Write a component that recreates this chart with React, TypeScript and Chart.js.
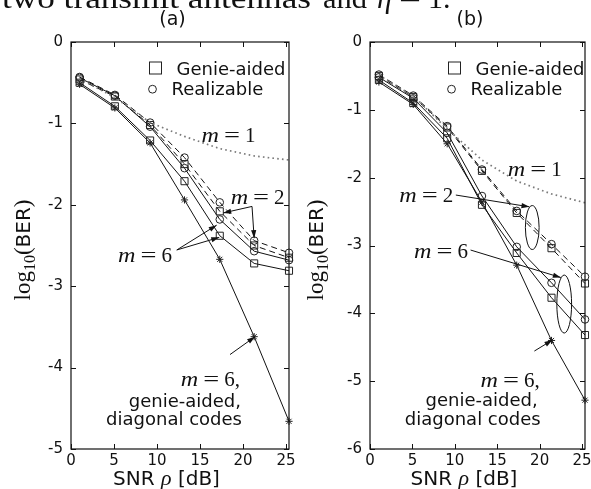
import React, { useEffect, useRef } from 'react';
import { Chart, registerables } from 'chart.js';

Chart.register(...registerables);

// ---------- data ----------
const SNR_A = [1, 5.1, 9.2, 13.2, 17.3, 21.3, 25.35];
const SNR_B = [1.05, 5.1, 9.1, 13.2, 17.3, 21.4, 25.35];
const X_TICKS = [0, 5, 10, 15, 20, 25];
const X_MAX = 25.35;
const Y_TICKS_A = [0, -1, -2, -3, -4, -5];
const Y_TICKS_B = [0, -1, -2, -3, -4, -5, -6];

// panel (a): log10(BER)
const A_M1 = [-0.45, -0.68, -0.99, -1.16, -1.31, -1.4, -1.45];
const A_M2_REAL = [-0.43, -0.65, -0.99, -1.42, -1.97, -2.44, -2.59];
const A_M2_GENIE = [-0.46, -0.67, -1.02, -1.5, -2.08, -2.5, -2.65];
const A_M6_REAL = [-0.44, -0.66, -1.04, -1.55, -2.18, -2.57, -2.68];
const A_M6_GENIE = [-0.5, -0.79, -1.21, -1.71, -2.38, -2.72, -2.81];
const A_M6_DIAG = [-0.52, -0.81, -1.24, -1.94, -2.67, -3.62, -4.66];

// panel (b): log10(BER)
const B_M1 = [-0.49, -0.8, -1.28, -1.74, -2.05, -2.24, -2.37];
const B_M2_REAL = [-0.48, -0.79, -1.24, -1.88, -2.49, -2.98, -3.46];
const B_M2_GENIE = [-0.5, -0.81, -1.26, -1.9, -2.52, -3.04, -3.56];
const B_M6_REAL = [-0.52, -0.83, -1.34, -2.27, -3.02, -3.55, -4.09];
const B_M6_GENIE = [-0.56, -0.9, -1.42, -2.4, -3.11, -3.77, -4.32];
const B_M6_DIAG = [-0.59, -0.92, -1.5, -2.36, -3.29, -4.4, -5.28];

// annotations (data units: [SNR, log10 BER])
const A_MATH = [
  { text: 'm = 1', at: [18.31, -1.225], align: 'center' },
  { text: 'm = 2', at: [21.7, -1.99], align: 'center' },
  { text: 'm = 6', at: [8.6, -2.7], align: 'center' },
  { text: 'm = 6,', at: [19.65, -4.226], align: 'right' },
];
const A_TEXT = [
  { text: 'genie-aided,', at: [19.77, -4.48], align: 'right' },
  { text: 'diagonal codes', at: [19.88, -4.705], align: 'right' },
];
const A_ARROWS = [
  { from: [21.05, -2.02], to: [17.7, -2.1] },
  { from: [21.05, -2.02], to: [21.3, -2.41] },
  { from: [12.3, -2.555], to: [16.94, -2.25] },
  { from: [12.3, -2.555], to: [17.24, -2.4] },
  { from: [18.49, -3.84], to: [21.4, -3.62] },
];
const A_ELLIPSES: { c: number[]; rx: number; ry: number }[] = [];

const B_MATH = [
  { text: 'm = 1', at: [19.42, -1.976], align: 'center' },
  { text: 'm = 2', at: [6.63, -2.354], align: 'center' },
  { text: 'm = 6', at: [8.37, -3.19], align: 'center' },
  { text: 'm = 6,', at: [20.0, -5.082], align: 'right' },
];
const B_TEXT = [
  { text: 'genie-aided,', at: [19.77, -5.362], align: 'right' },
  { text: 'diagonal codes', at: [20.12, -5.646], align: 'right' },
];
const B_ARROWS = [
  { from: [10.12, -2.256], to: [18.8, -2.43] },
  { from: [11.86, -3.067], to: [22.5, -3.472] },
  { from: [19.38, -4.556], to: [21.51, -4.393] },
];
const B_ELLIPSES = [
  { c: [19.13, -2.735], rx: 0.81, ry: 0.324 },
  { c: [22.9, -3.863], rx: 0.87, ry: 0.4275 },
];

// ---------- style ----------
const SANS = '"DejaVu Sans", sans-serif';
const SERIF = '"Liberation Serif", serif';
const INK = '#111';
const H = 489;

type Panel = {
  title: string;
  canvasLeft: number;
  width: number;
  areaLeft: number;
  areaRight: number;
  top: number;
  bottom: number;
  yMin: number;
  yTicks: number[];
  xs: number[];
  m1: number[];
  m2r: number[];
  m2g: number[];
  m6r: number[];
  m6g: number[];
  m6d: number[];
  math: any[];
  text: any[];
  arrows: any[];
  ellipses: any[];
  yTitleBase: number;
};

function ds(xs: number[], ys: number[], kind: string, marker: string) {
  return {
    data: xs.map((x, i) => ({ x, y: ys[i] })),
    borderColor: kind === 'dot' ? '#7a7a7a' : INK,
    borderWidth: kind === 'dot' ? 1.7 : 1,
    borderDash: kind === 'dot' ? [1.6, 3.2] : kind === 'dash' ? [6, 4] : [],
    pointStyle: marker === 'none' ? false : marker,
    pointRadius: marker === 'none' ? 0 : marker === 'rect' ? 5 : marker === 'circle' ? 3.8 : 3.6,
    pointHoverRadius: 0,
    pointBorderColor: '#222',
    pointBackgroundColor: 'rgba(0,0,0,0)',
    pointBorderWidth: 1,
    tension: 0,
    fill: false,
    clip: false,
  };
}

function drawMath(ctx: CanvasRenderingContext2D, text: string, x: number, y: number, align: string) {
  const rest = text.slice(1).trim().slice(1).trim();
  const size = 21;
  const fi = `italic ${size}px ${SERIF}`;
  const fr = `${size}px ${SERIF}`;
  ctx.font = fi;
  const wm = ctx.measureText('m').width * 1.15;
  ctx.font = fr;
  const eqScale = 1.35;
  const we = ctx.measureText('=').width * eqScale;
  const wr = ctx.measureText(rest).width;
  const gap = 5;
  const total = wm + gap + we + gap + wr;
  let x0 = align === 'center' ? x - total / 2 : align === 'right' ? x - total : x;
  ctx.textAlign = 'left';
  ctx.textBaseline = 'alphabetic';
  ctx.save();
  ctx.translate(x0, y);
  ctx.scale(1.15, 1);
  ctx.font = fi;
  ctx.fillText('m', 0, 0);
  ctx.restore();
  ctx.save();
  ctx.translate(x0 + wm + gap, y);
  ctx.scale(eqScale, 1);
  ctx.font = fr;
  ctx.fillText('=', 0, 0);
  ctx.restore();
  ctx.font = fr;
  ctx.fillText(rest, x0 + wm + gap + we + gap, y);
}

function arrow(ctx: CanvasRenderingContext2D, x1: number, y1: number, x2: number, y2: number) {
  ctx.beginPath();
  ctx.moveTo(x1, y1);
  ctx.lineTo(x2, y2);
  ctx.stroke();
  const a = Math.atan2(y2 - y1, x2 - x1);
  const L = 8;
  const w = 2.6;
  ctx.beginPath();
  ctx.moveTo(x2, y2);
  ctx.lineTo(x2 - L * Math.cos(a) + w * Math.sin(a), y2 - L * Math.sin(a) - w * Math.cos(a));
  ctx.lineTo(x2 - L * Math.cos(a) - w * Math.sin(a), y2 - L * Math.sin(a) + w * Math.cos(a));
  ctx.closePath();
  ctx.fill();
}

function drawPieces(ctx: CanvasRenderingContext2D, pieces: { t: string; f: string; dy: number }[], x: number, y: number, align: string) {
  let total = 0;
  const ws = pieces.map((p) => {
    ctx.font = p.f;
    const w = ctx.measureText(p.t).width;
    total += w;
    return w;
  });
  let cx = align === 'center' ? x - total / 2 : align === 'right' ? x - total : x;
  ctx.textAlign = 'left';
  ctx.textBaseline = 'alphabetic';
  pieces.forEach((p, i) => {
    ctx.font = p.f;
    ctx.fillText(p.t, cx, y + p.dy);
    cx += ws[i];
  });
}

function makePlugin(p: Panel) {
  return {
    id: 'decor',
    afterDraw(chart: any) {
      const ctx: CanvasRenderingContext2D = chart.ctx;
      const sx = chart.scales.x;
      const sy = chart.scales.y;
      const X = (v: number) => sx.getPixelForValue(v);
      const Y = (v: number) => sy.getPixelForValue(v);
      const ca = chart.chartArea;
      ctx.save();
      ctx.fillStyle = INK;
      ctx.strokeStyle = INK;
      ctx.setLineDash([]);

      // frame + inward ticks
      ctx.lineWidth = 1.2;
      ctx.strokeRect(ca.left, ca.top, ca.right - ca.left, ca.bottom - ca.top);
      ctx.lineWidth = 1;
      const tl = 5;
      ctx.beginPath();
      X_TICKS.forEach((v) => {
        const x = Math.round(X(v)) + 0.5;
        ctx.moveTo(x, ca.bottom);
        ctx.lineTo(x, ca.bottom - tl);
        ctx.moveTo(x, ca.top);
        ctx.lineTo(x, ca.top + tl);
      });
      p.yTicks.forEach((v) => {
        const y = Math.round(Y(v)) + 0.5;
        ctx.moveTo(ca.left, y);
        ctx.lineTo(ca.left + tl, y);
        ctx.moveTo(ca.right, y);
        ctx.lineTo(ca.right - tl, y);
      });
      ctx.stroke();

      // ellipses
      p.ellipses.forEach((e) => {
        const cx = X(e.c[0]);
        const cy = Y(e.c[1]);
        const rx = Math.abs(X(e.c[0] + e.rx) - cx);
        const ry = Math.abs(Y(e.c[1] + e.ry) - cy);
        ctx.beginPath();
        ctx.ellipse(cx, cy, rx, ry, 0, 0, Math.PI * 2);
        ctx.stroke();
      });

      // arrows
      p.arrows.forEach((a) => arrow(ctx, X(a.from[0]), Y(a.from[1]), X(a.to[0]), Y(a.to[1])));

      // math labels
      p.math.forEach((m) => drawMath(ctx, m.text, X(m.at[0]), Y(m.at[1]), m.align));
      // plain labels
      p.text.forEach((t) => {
        ctx.font = `18px ${SANS}`;
        ctx.textAlign = t.align;
        ctx.textBaseline = 'alphabetic';
        ctx.fillText(t.text, X(t.at[0]), Y(t.at[1]));
      });

      // legend
      ctx.lineWidth = 1;
      ctx.strokeStyle = '#222';
      ctx.strokeRect(ca.left + 78.5, ca.top + 20, 12, 12);
      ctx.beginPath();
      ctx.arc(ca.left + 81.5, ca.top + 47.2, 3.9, 0, Math.PI * 2);
      ctx.stroke();
      ctx.font = `18px ${SANS}`;
      ctx.textAlign = 'left';
      ctx.textBaseline = 'alphabetic';
      ctx.fillText('Genie-aided', ca.left + 105.5, ca.top + 32.5);
      ctx.fillText('Realizable', ca.left + 100.5, ca.top + 53);

      // panel title
      const mid = (ca.left + ca.right) / 2;
      ctx.font = `19px ${SANS}`;
      ctx.textAlign = 'center';
      ctx.fillText(p.title, mid - 7.5, 25);

      // x title
      drawPieces(
        ctx,
        [
          { t: 'SNR ', f: `20px ${SANS}`, dy: 0 },
          { t: 'ρ', f: `italic 22px ${SERIF}`, dy: 0 },
          { t: ' [dB]', f: `20px ${SANS}`, dy: 0 },
        ],
        mid - 13.5,
        485,
        'center'
      );

      // y title
      ctx.save();
      ctx.translate(p.yTitleBase, 250);
      ctx.rotate(-Math.PI / 2);
      drawPieces(
        ctx,
        [
          { t: 'log', f: `23px ${SERIF}`, dy: 0 },
          { t: '10', f: `16px ${SERIF}`, dy: 5 },
          { t: '(', f: `23px ${SERIF}`, dy: 0 },
          { t: 'BER', f: `20px ${SANS}`, dy: 0 },
          { t: ')', f: `23px ${SERIF}`, dy: 0 },
        ],
        0,
        0,
        'center'
      );
      ctx.restore();

      // cropped caption above the figure (page coordinates)
      ctx.save();
      ctx.translate(-p.canvasLeft, 0);
      ctx.textBaseline = 'alphabetic';
      ctx.textAlign = 'left';
      ctx.font = `30px ${SERIF}`;
      const c1 = 'two transmit antennas';
      const w1 = ctx.measureText(c1).width;
      ctx.save();
      ctx.translate(2, 7.5);
      ctx.scale(309 / w1, 1);
      ctx.fillText(c1, 0, 0);
      ctx.restore();
      ctx.save();
      ctx.translate(323, 7.5);
      const w2 = ctx.measureText('and').width;
      ctx.scale(44 / w2, 1);
      ctx.fillText('and', 0, 0);
      ctx.restore();
      ctx.font = `italic 30px ${SERIF}`;
      ctx.fillText('η', 377, 7.5);
      ctx.font = `30px ${SERIF}`;
      ctx.save();
      ctx.translate(399, 7.5);
      ctx.scale(1.3, 1);
      ctx.fillText('=', 0, 0);
      ctx.restore();
      ctx.fillText('1.', 428, 7.5);
      ctx.restore();

      ctx.restore();
    },
  };
}

function buildConfig(p: Panel): any {
  return {
    type: 'line',
    data: {
      datasets: [
        ds(p.xs, p.m1, 'dot', 'none'),
        ds(p.xs, p.m2r, 'dash', 'circle'),
        ds(p.xs, p.m2g, 'dash', 'rect'),
        ds(p.xs, p.m6r, 'solid', 'circle'),
        ds(p.xs, p.m6g, 'solid', 'rect'),
        ds(p.xs, p.m6d, 'solid', 'star'),
      ],
    },
    options: {
      responsive: false,
      animation: false,
      devicePixelRatio: 1,
      events: [],
      layout: { padding: { left: 0, right: p.width - p.areaRight, top: p.top, bottom: 0 } },
      plugins: { legend: { display: false }, tooltip: { enabled: false }, title: { display: false } },
      scales: {
        x: {
          type: 'linear',
          min: 0,
          max: X_MAX,
          afterBuildTicks: (s: any) => {
            s.ticks = X_TICKS.map((v) => ({ value: v }));
          },
          afterFit: (s: any) => {
            s.height = H - p.bottom;
            s.paddingLeft = 0;
            s.paddingRight = 0;
          },
          grid: { display: false, drawTicks: false },
          border: { display: false },
          ticks: {
            color: '#111',
            font: { family: '"DejaVu Sans", sans-serif', size: 15 },
            padding: 3,
            maxRotation: 0,
            autoSkip: false,
            callback: (v: any) => String(v),
          },
        },
        y: {
          type: 'linear',
          min: p.yMin,
          max: 0,
          afterBuildTicks: (s: any) => {
            s.ticks = p.yTicks.map((v) => ({ value: v }));
          },
          afterFit: (s: any) => {
            s.width = p.areaLeft;
            s.paddingTop = 0;
            s.paddingBottom = 0;
          },
          grid: { display: false, drawTicks: false },
          border: { display: false },
          ticks: {
            color: '#111',
            font: { family: '"DejaVu Sans", sans-serif', size: 15 },
            padding: 8,
            autoSkip: false,
            callback: (v: any) => String(v),
          },
        },
      },
    },
    plugins: [makePlugin(p)],
  };
}

const PANEL_A: Panel = {
  title: '(a)',
  canvasLeft: 0,
  width: 295,
  areaLeft: 71,
  areaRight: 289,
  top: 42,
  bottom: 449,
  yMin: -5,
  yTicks: Y_TICKS_A,
  xs: SNR_A,
  m1: A_M1,
  m2r: A_M2_REAL,
  m2g: A_M2_GENIE,
  m6r: A_M6_REAL,
  m6g: A_M6_GENIE,
  m6d: A_M6_DIAG,
  math: A_MATH,
  text: A_TEXT,
  arrows: A_ARROWS,
  ellipses: A_ELLIPSES,
  yTitleBase: 30,
};

const PANEL_B: Panel = {
  title: '(b)',
  canvasLeft: 295,
  width: 296,
  areaLeft: 75,
  areaRight: 293,
  top: 42,
  bottom: 449,
  yMin: -6,
  yTicks: Y_TICKS_B,
  xs: SNR_B,
  m1: B_M1,
  m2r: B_M2_REAL,
  m2g: B_M2_GENIE,
  m6r: B_M6_REAL,
  m6g: B_M6_GENIE,
  m6d: B_M6_DIAG,
  math: B_MATH,
  text: B_TEXT,
  arrows: B_ARROWS,
  ellipses: B_ELLIPSES,
  yTitleBase: 28,
};

function PanelChart({ p }: { p: Panel }) {
  const ref = useRef<HTMLCanvasElement>(null);
  useEffect(() => {
    const chart = new Chart(ref.current as HTMLCanvasElement, buildConfig(p));
    return () => chart.destroy();
  }, []);
  return (
    <canvas
      ref={ref}
      width={p.width}
      height={H}
      style={{ position: 'absolute', left: p.canvasLeft, top: 0, width: p.width, height: H }}
    />
  );
}

export default function App() {
  return (
    <div style={{ position: 'absolute', left: 0, top: 0, width: 591, height: H, background: '#fff', overflow: 'hidden' }}>
      <PanelChart p={PANEL_A} />
      <PanelChart p={PANEL_B} />
    </div>
  );
}
